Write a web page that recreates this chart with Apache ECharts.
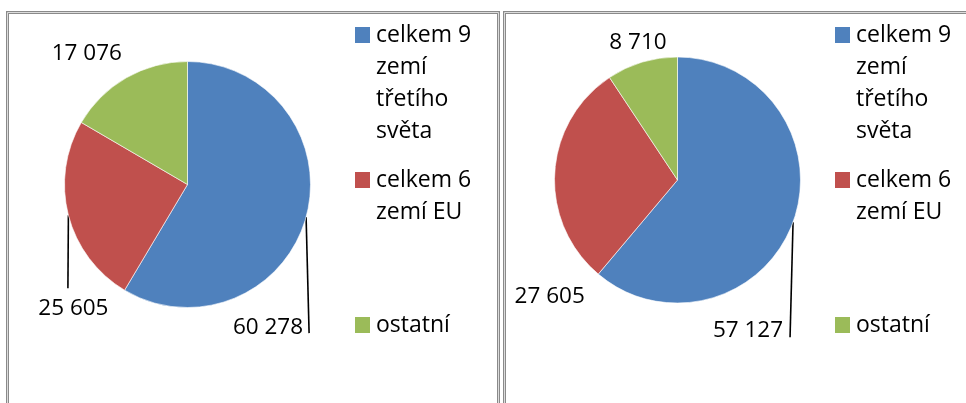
<!DOCTYPE html>
<html>
<head>
<meta charset="utf-8">
<script src="https://cdn.jsdelivr.net/npm/echarts@6/dist/echarts.min.js"></script>
<style>
  html, body { margin: 0; padding: 0; background: #fff; }
  #chart { width: 966px; height: 403px; }
</style>
</head>
<body>
<div id="chart"></div>
<script>
// ---- data ----
const categories = ['celkem 9 zemí třetího světa', 'celkem 6 zemí EU', 'ostatní'];
const legendLines = [['celkem 9', 'zemí', 'třetího', 'světa'], ['celkem 6', 'zemí EU'], ['ostatní']];
const valuesLeft = [60278, 25605, 17076];
const valuesRight = [57127, 27605, 8710];

// ---- style ----
const colors = ['#4F81BD', '#C0504D', '#9BBB59'];
const FONT = 'Open Sans';
const FS_LEGEND = 23;
const FS_LABEL = 22.5;
const LH = 32;
// label offsets relative to the slice's outer mid-point (computed by ECharts)
const labelPlacement = [
  [
    { line: [3, 116], off: [-3, 110], align: 'right' },
    { line: [-0.5, 73], off: [5, 93], align: 'center' },
    { line: null, off: [-39.5, -24], align: 'center' }
  ],
  [
    { line: [-3, 115], off: [-10, 108], align: 'right' },
    { line: null, off: [-5, 124], align: 'center' },
    { line: null, off: [-4, -20], align: 'center' }
  ]
];
const legendLeftX = [349, 829];
const legendTops = [19, 164, 309];

function fmt(v) { return String(v).replace(/\B(?=(\d{3})+(?!\d))/g, ' '); }

const chart = echarts.init(document.getElementById('chart'), null, { renderer: 'canvas' });

const rich = {
  t: { fontFamily: FONT, fontSize: FS_LEGEND, lineHeight: LH, color: '#000' },
  gap: { width: 6, height: 16 },
  ind: { width: 21, height: 16 }
};
colors.forEach((c, i) => { rich['sq' + i] = { width: 15, height: 16, backgroundColor: c }; });

const legends = [];
legendLeftX.forEach((lx) => {
  categories.forEach((name, i) => {
    legends.push({
      data: [name],
      left: lx,
      top: legendTops[i],
      orient: 'vertical',
      padding: 0,
      itemWidth: 0,
      itemHeight: 0,
      icon: 'rect',
      selectedMode: false,
      formatter: function (n) {
        const idx = categories.indexOf(n);
        return legendLines[idx].map((l, k) =>
          (k === 0 ? '{sq' + idx + '|}{gap|}' : '{ind|}') + '{t|' + l + '}'
        ).join('\n');
      },
      textStyle: { fontFamily: FONT, fontSize: FS_LEGEND, lineHeight: LH, color: '#000', rich: rich }
    });
  });
});

function makeSeries(values, center) {
  return {
    type: 'pie',
    center: center,
    radius: 123,
    startAngle: 90,
    clockwise: true,
    avoidLabelOverlap: false,
    silent: true,
    itemStyle: { borderColor: '#ffffff', borderWidth: 0.6 },
    label: {
      show: true,
      position: 'outside',
      formatter: (p) => fmt(p.value),
      fontFamily: FONT,
      fontSize: FS_LABEL,
      color: '#000'
    },
    labelLine: {
      show: true,
      length: 10,
      length2: 10,
      lineStyle: { color: '#000', width: 1.6 }
    },
    labelLayout: function (p) {
      const pl = labelPlacement[p.seriesIndex][p.dataIndex];
      const a = p.labelLinePoints ? p.labelLinePoints[0] : [p.rect.x, p.rect.y];
      const out = {
        x: a[0] + pl.off[0],
        y: a[1] + pl.off[1],
        align: pl.align,
        verticalAlign: 'middle'
      };
      if (pl.line) {
        const e = [a[0] + pl.line[0], a[1] + pl.line[1]];
        out.labelLinePoints = [[a[0], a[1]], e, e];
      } else {
        out.labelLinePoints = [[a[0], a[1]], [a[0], a[1]], [a[0], a[1]]];
      }
      return out;
    },
    data: values.map((v, i) => ({ name: categories[i], value: v, itemStyle: { color: colors[i] } }))
  };
}

const boxes = [
  { x: 7.5, y: 12.5, w: 491, h: 420 },
  { x: 504.5, y: 12.5, w: 480, h: 420 }
];
const graphic = [];
boxes.forEach(b => {
  graphic.push({ type: 'rect', shape: { x: b.x, y: b.y, width: b.w, height: b.h }, style: { fill: 'none', stroke: '#8a8a8a', lineWidth: 3 }, silent: true, z: -1 });
  graphic.push({ type: 'rect', shape: { x: b.x, y: b.y, width: b.w, height: b.h }, style: { fill: 'none', stroke: '#dcdcdc', lineWidth: 1 }, silent: true, z: -1 });
});

chart.setOption({
  backgroundColor: '#fff',
  animation: false,
  color: colors,
  graphic: graphic,
  legend: legends,
  series: [
    makeSeries(valuesLeft, [187.5, 184.5]),
    makeSeries(valuesRight, [677.5, 180])
  ]
});
</script>
</body>
</html>
